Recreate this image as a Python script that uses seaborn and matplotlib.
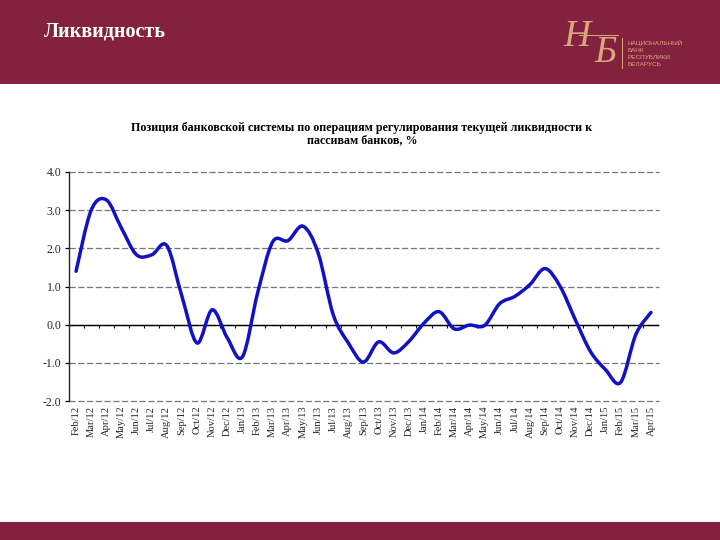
import numpy as np
import pandas as pd
import matplotlib
matplotlib.use("Agg")
import matplotlib.pyplot as plt
import seaborn as sns
from matplotlib.patches import PathPatch, Rectangle
from matplotlib.path import Path

months = ["Feb/12", "Mar/12", "Apr/12", "May/12", "Jun/12", "Jul/12", "Aug/12", "Sep/12", "Oct/12", "Nov/12",
          "Dec/12", "Jan/13", "Feb/13", "Mar/13", "Apr/13", "May/13", "Jun/13", "Jul/13", "Aug/13", "Sep/13",
          "Oct/13", "Nov/13", "Dec/13", "Jan/14", "Feb/14", "Mar/14", "Apr/14", "May/14", "Jun/14", "Jul/14",
          "Aug/14", "Sep/14", "Oct/14", "Nov/14", "Dec/14", "Jan/15", "Feb/15", "Mar/15", "Apr/15"]
position = [1.4, 3.0, 3.27, 2.53, 1.83, 1.83, 2.07, 0.74, -0.48, 0.39,
            -0.35, -0.84, 0.83, 2.17, 2.2, 2.58, 1.88, 0.26, -0.48, -0.98,
            -0.45, -0.74, -0.44, 0.04, 0.34, -0.11, -0.01, -0.02, 0.55, 0.74,
            1.05, 1.47, 1.0, 0.13, -0.7, -1.18, -1.51, -0.26, 0.32]
y_ticks = [4.0, 3.0, 2.0, 1.0, 0.0, -1.0, -2.0]

header_color = "#84213F"
gold = "#D9A77C"
line_color = "#1212C4"
serif = "Liberation Serif"


def smooth_path(xy):
    # same kind of bezier smoothing as an Excel smoothed line
    verts = [xy[0]]
    codes = [Path.MOVETO]
    for i in range(len(xy) - 1):
        prev_pt = xy[max(i - 1, 0)]
        next_pt = xy[min(i + 2, len(xy) - 1)]
        verts += [xy[i] + (xy[i + 1] - prev_pt) / 6, xy[i + 1] - (next_pt - xy[i]) / 6, xy[i + 1]]
        codes += [Path.CURVE4, Path.CURVE4, Path.CURVE4]
    return Path(verts, codes)


df = pd.DataFrame({"month": months, "position": position})

sns.set_style("white")
plt.rcParams["font.family"] = [serif, "DejaVu Serif"]

fig = plt.figure(figsize=(7.2, 5.4), dpi=100, facecolor="white")

# header and footer bands
fig.add_artist(Rectangle((0, 1 - 84 / 540), 1, 84 / 540, transform=fig.transFigure, color=header_color, lw=0))
fig.add_artist(Rectangle((0, 0), 1, 18 / 540, transform=fig.transFigure, color=header_color, lw=0))
fig.text(44 / 720, 1 - 32 / 540, "Ликвидность", color="white", fontsize=14.5, fontweight="bold",
         va="center", ha="left")

# logo
fig.text(577 / 720, 1 - 37 / 540, "Н", color=gold, fontsize=27, style="italic", va="center", ha="center")
fig.text(606 / 720, 1 - 53 / 540, "Б", color=gold, fontsize=27, style="italic", va="center", ha="center")
fig.add_artist(Rectangle((579 / 720, 1 - 36 / 540), 40 / 720, 1.5 / 540, transform=fig.transFigure, color=gold, lw=0))
fig.add_artist(Rectangle((622 / 720, 1 - 69 / 540), 1 / 720, 31 / 540, transform=fig.transFigure, color=gold, lw=0))
for row, word in enumerate(["НАЦИОНАЛЬНЫЙ", "БАНК", "РЕСПУБЛИКИ", "БЕЛАРУСЬ"]):
    fig.text(627 / 720, 1 - (43 + row * 7.3) / 540, word, color=gold, fontsize=4.6, va="center", ha="left",
             family=["Liberation Sans"])

fig.text(362 / 720, 1 - 134 / 540,
         "Позиция банковской системы по операциям регулирования текущей ликвидности к\nпассивам банков, %",
         color="black", fontsize=8.65, fontweight="bold", ha="center", va="center", linespacing=1.1)

# axes box: x 68.5-658.5 px, y 172-401 px
ax = fig.add_axes([68.5 / 720, 1 - 401 / 540, 590 / 720, 229 / 540])
sns.lineplot(data=df, x="month", y="position", sort=False, color=line_color, lw=2.5, ax=ax)

# straight segments from lineplot get replaced by the smoothed curve
line = ax.lines[0]
ax.add_patch(PathPatch(smooth_path(line.get_xydata()), fill=False, ec=line_color, lw=2.5, capstyle="round", zorder=5))
line.set_visible(False)

ax.set_xlim(-0.5, len(months) - 0.5)
ax.set_ylim(-2, 4)
ax.set_xlabel("")
ax.set_ylabel("")
ax.set_yticks(y_ticks)
ax.set_yticklabels([f"{v:.1f}" for v in y_ticks], fontsize=8.5)
ax.set_xticks(range(len(months)))
ax.set_xticklabels(months, rotation=90, fontsize=7.6)
ax.tick_params(axis="y", length=3, width=0.9, left=True, color="black", pad=2)
ax.tick_params(axis="x", bottom=False, pad=0)
ax.grid(axis="y", color="#777777", lw=0.9, ls=(0, (5, 2)))
for gl in ax.get_ygridlines():
    gl.set_clip_on(False)
ax.set_axisbelow(True)

for side in ["top", "right", "bottom"]:
    ax.spines[side].set_visible(False)
ax.spines["left"].set_linewidth(1)
ax.axhline(0, color="black", lw=1, zorder=2)
# category boundary ticks on the zero line
ax.vlines(np.arange(len(months) + 1) - 0.5, -0.08, 0, color="black", lw=0.8, zorder=2)

fig.savefig("out.png", dpi=100)
